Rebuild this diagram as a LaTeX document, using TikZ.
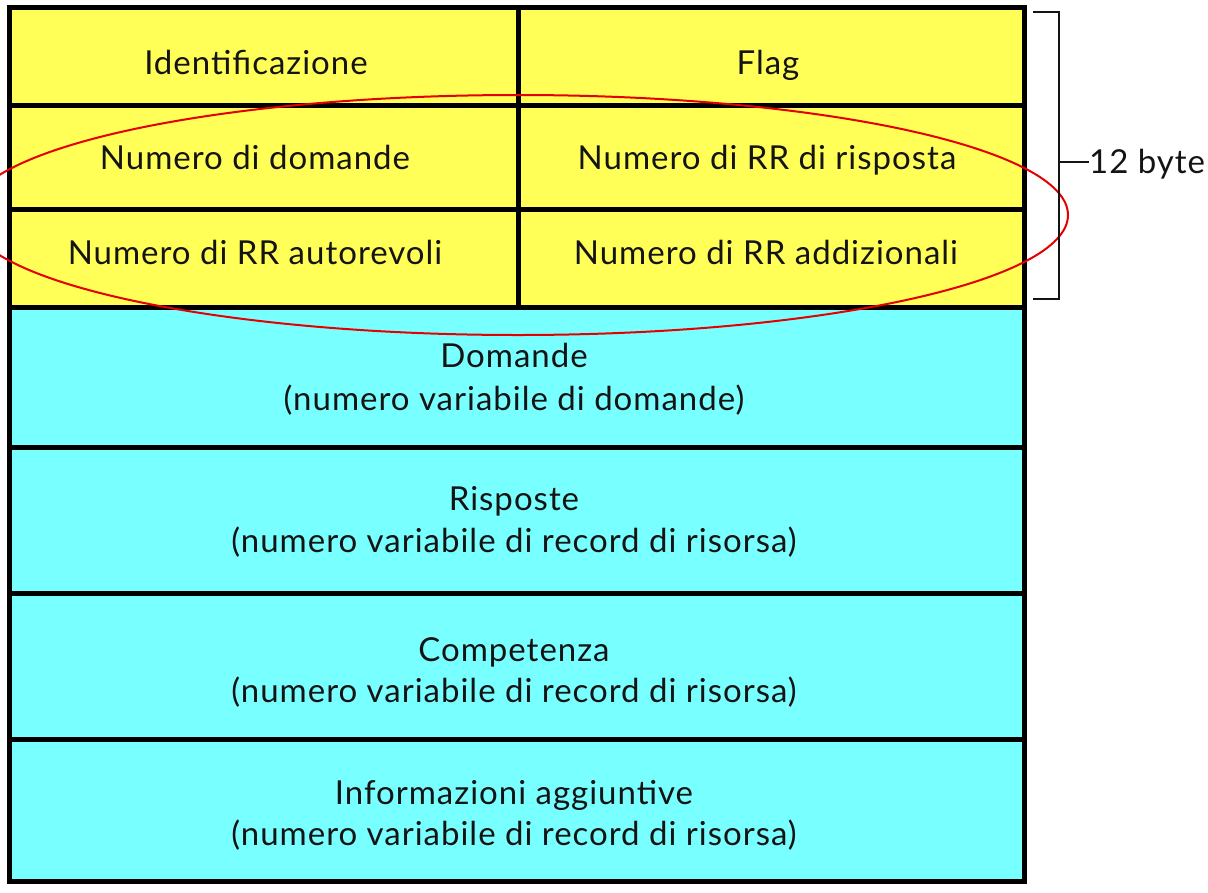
\documentclass[tikz,border=0pt]{standalone}
\usepackage{fontspec}
\setmainfont{Lato}[LetterSpace=3]
\definecolor{hdrfill}{RGB}{255,255,88}
\definecolor{secfill}{RGB}{120,255,255}
\definecolor{ink}{RGB}{20,20,20}
\begin{document}
\begin{tikzpicture}[x=1pt,y=-1pt,
  rule/.style={line width=5pt, draw=black},
  lbl/.style={anchor=base, inner sep=0pt, text=ink, font=\fontsize{33}{40}\selectfont},
  brace/.style={line width=2.5pt, draw=ink},
  ring/.style={line width=2pt, draw=red!90!black}
]
\useasboundingbox (0,0) rectangle (1208,892);

% header block (12 bytes) and variable-length sections
\fill[hdrfill] (9.5,7) rectangle (1024,307);
\fill[secfill] (9.5,307) rectangle (1024,881);

% field separators
\draw[rule] (9.5,105) -- (1024,105);
\draw[rule] (9.5,209) -- (1024,209);
\draw[rule] (9.5,307) -- (1024,307);
\draw[rule] (9.5,447) -- (1024,447);
\draw[rule] (9.5,593) -- (1024,593);
\draw[rule] (9.5,739) -- (1024,739);
\draw[rule] (518,7) -- (518,307);
\draw[rule] (9.5,7) rectangle (1024,881);

% header fields
\node[lbl] (id)    at (256,74)  {Identificazione};
\node[lbl] (flag)  at (768,74)  {Flag};
\node[lbl] (nq)    at (255,169) {Numero di domande};
\node[lbl] (nans)  at (767,169) {Numero di RR di risposta};
\node[lbl] (nauth) at (255,264) {Numero di RR autorevoli};
\node[lbl] (nadd)  at (766,264) {Numero di RR addizionali};

% variable sections
\node[lbl] (q1) at (514,367) {Domande};
\node[lbl] (q2) at (514,410) {(numero variabile di domande)};
\node[lbl] (a1) at (514,510) {Risposte};
\node[lbl] (a2) at (514,552) {(numero variabile di record di risorsa)};
\node[lbl] (c1) at (514,661) {Competenza};
\node[lbl] (c2) at (514,702) {(numero variabile di record di risorsa)};
\node[lbl] (i1) at (514,804) {Informazioni aggiuntive};
\node[lbl] (i2) at (514,845) {(numero variabile di record di risorsa)};

% highlight around the count fields
\draw[ring] (518,215) ellipse [x radius=550, y radius=120];

% 12-byte bracket
\coordinate (bt) at (1033,12);
\coordinate (bb) at (1033,299);
\coordinate (bm) at (1059,162);
\draw[brace] (bt) -- (1059,12) -- (1059,299) -- (bb);
\node[lbl, anchor=base west] (size) at (1089,173) {12 byte};
\draw[brace] (bm) -- (size.west |- bm);
\end{tikzpicture}
\end{document}
